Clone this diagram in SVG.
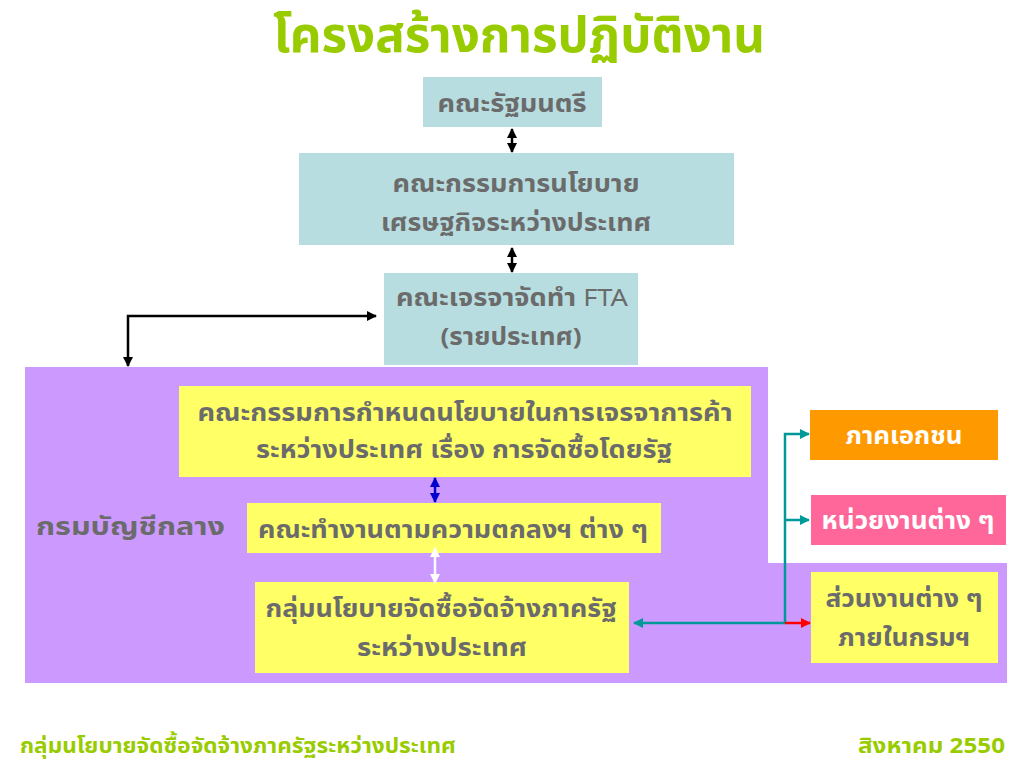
<svg xmlns="http://www.w3.org/2000/svg" width="1024" height="768" viewBox="0 0 1024 768">
<defs>
<style>
.t{font-family:"Noto Sans Thai","Noto Sans","DejaVu Sans",sans-serif;font-weight:bold;font-size:24px;fill:#6b6b6b;text-anchor:middle}
.w{fill:#ffffff}
.cy{fill:#b7dde0}
.ye{fill:#ffff66}
.k{stroke:#000;stroke-width:2.5;fill:none}
.g{font-family:"Noto Sans Thai","Noto Sans",sans-serif;font-weight:bold;fill:#99cc00}
</style>
<marker id="ak" viewBox="0 0 10 10" refX="9" refY="5" markerWidth="4" markerHeight="4" orient="auto-start-reverse"><path d="M0,0L10,5L0,10z" fill="#000"/></marker>
<marker id="ab" viewBox="0 0 10 10" refX="9" refY="5" markerWidth="4" markerHeight="4" orient="auto-start-reverse"><path d="M0,0L10,5L0,10z" fill="#0000cc"/></marker>
<marker id="aw" viewBox="0 0 10 10" refX="9" refY="5" markerWidth="4" markerHeight="4" orient="auto-start-reverse"><path d="M0,0L10,5L0,10z" fill="#fff"/></marker>
<marker id="at" viewBox="0 0 10 10" refX="9" refY="5" markerWidth="4" markerHeight="4" orient="auto-start-reverse"><path d="M0,0L10,5L0,10z" fill="#009999"/></marker>
<marker id="ar" viewBox="0 0 10 10" refX="9" refY="5" markerWidth="4" markerHeight="4" orient="auto-start-reverse"><path d="M0,0L10,5L0,10z" fill="#ff0000"/></marker>
</defs>
<rect width="1024" height="768" fill="#fff"/>
<text x="519" y="52" class="g" style="font-size:50px;text-anchor:middle" textLength="492" lengthAdjust="spacingAndGlyphs">โครงสร้างการปฏิบัติงาน</text>
<g id="dept">
<path d="M25,367H768V563H1007V683H25Z" fill="#cc99ff"/>
<text x="36" y="535" class="t" style="text-anchor:start;font-size:25px" textLength="189" lengthAdjust="spacingAndGlyphs">กรมบัญชีกลาง</text>
</g>
<g id="cabinet"><rect x="423" y="77" width="179" height="50" class="cy"/><text x="512" y="112" class="t" textLength="149" lengthAdjust="spacingAndGlyphs">คณะรัฐมนตรี</text></g>
<g id="policy"><rect x="299" y="153" width="435" height="92" class="cy"/><text x="516" y="192" class="t" textLength="247" lengthAdjust="spacingAndGlyphs">คณะกรรมการนโยบาย</text><text x="516" y="231" class="t" textLength="270" lengthAdjust="spacingAndGlyphs">เศรษฐกิจระหว่างประเทศ</text></g>
<g id="fta"><rect x="384" y="273" width="254" height="92" class="cy"/><text x="512" y="306" class="t" textLength="232" lengthAdjust="spacingAndGlyphs">คณะเจรจาจัดทำ <tspan style="font-weight:normal">FTA</tspan></text><text x="511" y="345" class="t" textLength="141" lengthAdjust="spacingAndGlyphs">(รายประเทศ)</text></g>
<g id="committee"><rect x="179" y="386" width="572" height="91" class="ye"/><text x="465" y="421" class="t" textLength="535" lengthAdjust="spacingAndGlyphs">คณะกรรมการกำหนดนโยบายในการเจรจาการค้า</text><text x="464" y="458" class="t" textLength="416" lengthAdjust="spacingAndGlyphs">ระหว่างประเทศ เรื่อง การจัดซื้อโดยรัฐ</text></g>
<g id="workgroup"><rect x="247" y="503" width="414" height="50" class="ye"/><text x="453" y="538" class="t" textLength="390" lengthAdjust="spacingAndGlyphs">คณะทำงานตามความตกลงฯ ต่าง ๆ</text></g>
<g id="procgroup"><rect x="255" y="582" width="374" height="91" class="ye"/><text x="441" y="617" class="t" textLength="351" lengthAdjust="spacingAndGlyphs">กลุ่มนโยบายจัดซื้อจัดจ้างภาครัฐ</text><text x="442" y="656" class="t" textLength="170" lengthAdjust="spacingAndGlyphs">ระหว่างประเทศ</text></g>
<g id="private"><rect x="810" y="410" width="188" height="50" fill="#ff9900"/><text x="904" y="444" class="t w" textLength="117" lengthAdjust="spacingAndGlyphs">ภาคเอกชน</text></g>
<g id="agencies"><rect x="811" y="495" width="195" height="50" fill="#ff6699"/><text x="908" y="529" class="t w" textLength="173" lengthAdjust="spacingAndGlyphs">หน่วยงานต่าง ๆ</text></g>
<g id="internal"><rect x="811" y="572" width="187" height="91" class="ye"/><text x="904" y="607" class="t" textLength="157" lengthAdjust="spacingAndGlyphs">ส่วนงานต่าง ๆ</text><text x="904" y="646" class="t" textLength="132" lengthAdjust="spacingAndGlyphs">ภายในกรมฯ</text></g>
<g id="connectors">
<line x1="512" y1="129" x2="512" y2="152" class="k" marker-start="url(#ak)" marker-end="url(#ak)"/>
<line x1="512" y1="248" x2="512" y2="272" class="k" marker-start="url(#ak)" marker-end="url(#ak)"/>
<polyline points="128,366 128,316 376,316" class="k" marker-start="url(#ak)" marker-end="url(#ak)"/>
<line x1="435" y1="478" x2="435" y2="502" stroke="#0000cc" stroke-width="2.5" marker-start="url(#ab)" marker-end="url(#ab)"/>
<line x1="435" y1="548" x2="435" y2="583" stroke="#fff" stroke-width="2.5" marker-start="url(#aw)" marker-end="url(#aw)"/>
<polyline points="809,434 785,434 785,623 634,623" fill="none" stroke="#009999" stroke-width="2.5" marker-start="url(#at)" marker-end="url(#at)"/>
<line x1="785" y1="520" x2="809" y2="520" stroke="#009999" stroke-width="2.5" marker-end="url(#at)"/>
<line x1="785" y1="623" x2="810" y2="623" stroke="#ff0000" stroke-width="2.5" marker-end="url(#ar)"/>
</g>
<text x="20" y="753" class="g" style="font-size:21px" textLength="436" lengthAdjust="spacingAndGlyphs">กลุ่มนโยบายจัดซื้อจัดจ้างภาครัฐระหว่างประเทศ</text>
<text x="858" y="753" class="g" style="font-size:21px" textLength="147" lengthAdjust="spacingAndGlyphs">สิงหาคม 2550</text>
</svg>
